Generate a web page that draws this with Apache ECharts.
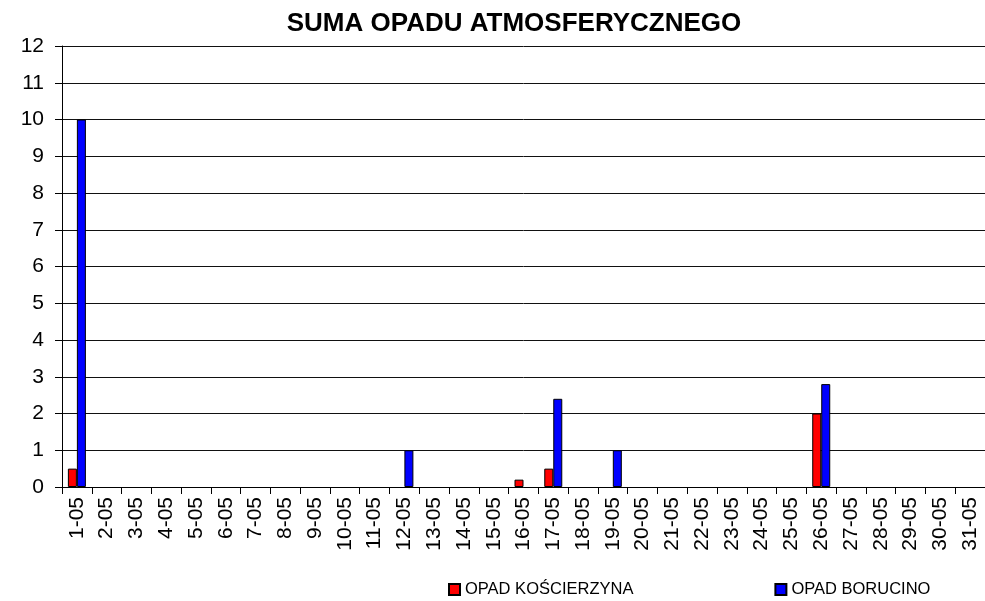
<!DOCTYPE html>
<html>
<head>
<meta charset="utf-8">
<script src="https://cdn.jsdelivr.net/npm/echarts@6/dist/echarts.min.js"></script>
<style>
  html, body { margin: 0; padding: 0; background: #fff; }
  #chart { width: 985px; height: 601px; }
</style>
</head>
<body>
<div id="chart"></div>
<script>
const days = []
for (let d = 1; d <= 31; d++) days.push(d + '-05')

const opadKoscierzyna = [0.5, 0, 0, 0, 0, 0, 0, 0, 0, 0, 0, 0, 0, 0, 0, 0.2, 0.5, 0, 0, 0, 0, 0, 0, 0, 0, 2.0, 0, 0, 0, 0, 0]
const opadBorucino = [10, 0, 0, 0, 0, 0, 0, 0, 0, 0, 0, 1, 0, 0, 0, 0, 2.4, 0, 1, 0, 0, 0, 0, 0, 0, 2.8, 0, 0, 0, 0, 0]

const FONT = '"Liberation Sans", Arial, sans-serif'

// zeros are not drawn as bars in the reference
const noZero = (arr) => arr.map((v) => (v === 0 ? '-' : v))

const chart = echarts.init(document.getElementById('chart'))
chart.setOption({
  animation: false,
  title: {
    text: 'SUMA OPADU ATMOSFERYCZNEGO',
    left: 509,
    textAlign: 'center',
    top: 6,
    textStyle: { fontFamily: FONT, fontSize: 26, fontWeight: 'bold', color: '#000' },
  },
  legend: {
    left: 443,
    top: 576,
    itemWidth: 11,
    itemHeight: 11,
    itemGap: 141,
    icon: 'rect',
    textStyle: { fontFamily: FONT, fontSize: 16.5, color: '#000' },
    data: ['OPAD KOŚCIERZYNA', 'OPAD BORUCINO'],
  },
  grid: { left: 62, top: 46, width: 925, height: 441, containLabel: false },
  xAxis: {
    type: 'category',
    data: days,
    axisLine: { lineStyle: { color: '#000', width: 1 } },
    axisTick: { show: true, length: 7, alignWithLabel: false, lineStyle: { color: '#000' } },
    axisLabel: {
      interval: 0,
      rotate: 90,
      margin: 10,
      fontFamily: FONT,
      fontSize: 21,
      color: '#000',
    },
  },
  yAxis: {
    type: 'value',
    min: 0,
    max: 12,
    interval: 1,
    axisLine: { show: true, lineStyle: { color: '#000', width: 1 } },
    axisTick: { show: true, length: 7, lineStyle: { color: '#000' } },
    axisLabel: { fontFamily: FONT, fontSize: 21, color: '#000', margin: 18 },
    splitLine: { lineStyle: { color: '#111', width: 1 } },
  },
  series: [
    {
      name: 'OPAD KOŚCIERZYNA',
      type: 'bar',
      data: noZero(opadKoscierzyna),
      barWidth: 9,
      barGap: '0%',
      itemStyle: { color: '#ff0000', borderColor: '#000', borderWidth: 1 },
    },
    {
      name: 'OPAD BORUCINO',
      type: 'bar',
      data: noZero(opadBorucino),
      barWidth: 9,
      barGap: '0%',
      itemStyle: { color: '#0000ff', borderColor: '#000', borderWidth: 1 },
    },
  ],
})
</script>
</body>
</html>
